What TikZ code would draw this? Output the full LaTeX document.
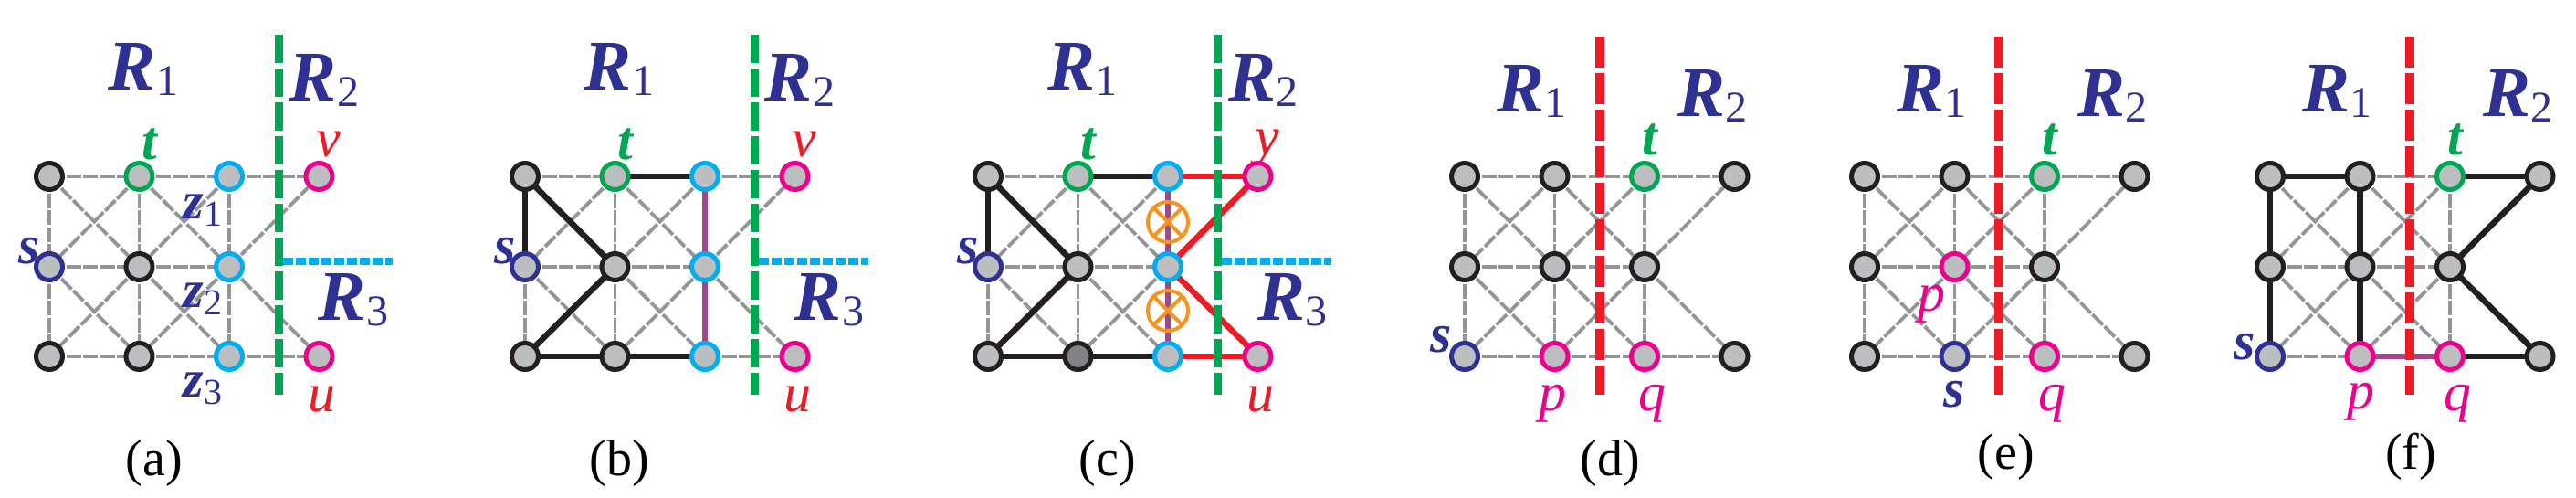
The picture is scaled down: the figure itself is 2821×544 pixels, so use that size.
\documentclass[tikz,border=0pt]{standalone}
\usepackage{fontspec}
\setmainfont{Liberation Serif}
\begin{document}
\definecolor{ngray}{HTML}{BCBEC0}
\definecolor{dgray}{HTML}{808285}
\definecolor{egray}{HTML}{939598}
\definecolor{kblack}{HTML}{231F20}
\definecolor{kgreen}{HTML}{00A651}
\definecolor{kcyan}{HTML}{00AEEF}
\definecolor{kmag}{HTML}{EC008C}
\definecolor{kblue}{HTML}{2E3192}
\definecolor{kred}{HTML}{ED1C24}
\definecolor{kpurp}{HTML}{A0488C}
\definecolor{korange}{HTML}{F7941D}
\begin{tikzpicture}[x=1pt,y=-1pt,
  gedge/.style={egray,line width=3.8pt,dash pattern=on 16pt off 2.5pt},
  bedge/.style={kblack,line width=6.5pt},
  pedge/.style={kpurp,line width=6.5pt},
  redge/.style={kred,line width=6.5pt},
  vtx/.style={circle,draw=#1,fill=ngray,line width=5pt,minimum size=29pt,inner sep=0pt},
  gline/.style={kgreen,line width=9pt,dash pattern=on 31pt off 6pt},
  cline/.style={kcyan,line width=8pt,dash pattern=on 11pt off 3pt},
  rline/.style={kred,line width=10pt,dash pattern=on 34pt off 6pt},
  Rlab/.style={kblue,inner sep=0pt},
  lab/.style={inner sep=0pt,font=\fontsize{60}{60}\selectfont\itshape},
  blab/.style={inner sep=0pt,font=\fontsize{60}{60}\selectfont\bfseries\itshape},
  captxt/.style={inner sep=0pt,font=\fontsize{56}{60}\selectfont}]
\newcommand\Rl[1]{\fontsize{78}{80}\selectfont\textbf{\textit{R}}\fontsize{48}{50}\selectfont\raisebox{-6pt}{#1}}
\newcommand\zl[1]{\fontsize{58}{60}\selectfont\textbf{\textit{z}}\fontsize{40}{40}\selectfont\raisebox{-8pt}{#1}}
\newcommand\mkgrid[2]{\foreach \i in {0,1,2,3}{\foreach \j/\yy in {0/193,1/292,2/390}{\coordinate (#1\i\j) at (#2+98.5*\i,\yy);}}}
\newcommand\grayedges[1]{\foreach \p/\q in {00/10,10/20,20/30,01/11,11/21,02/12,12/22,22/32,00/01,01/02,10/11,11/12,20/21,21/22,00/11,10/01,01/12,11/02,10/21,20/11,11/22,21/12,21/30,21/32}{\draw[gedge] (#1\p) -- (#1\q);}}
\newcommand\verts[2]{\foreach \p/\c in {#2}{\node[vtx=\c] (#1n\p) at (#1\p) {};}}
\useasboundingbox (0,0) rectangle (2821,544);
\mkgrid{a}{54}\mkgrid{b}{575}\mkgrid{c}{1082}\mkgrid{d}{1604}\mkgrid{e}{2042}\mkgrid{f}{2486}
\foreach \P in {a,b,c,d,e,f}{\grayedges{\P}}
\foreach \P in {b,c}{
  \foreach \p/\q in {00/01,00/11,11/02,02/12,12/22,10/20}{\draw[bedge] (\P\p) -- (\P\q);}
  \draw[pedge] (\P20) -- (\P21) -- (\P22);}
\foreach \p/\q in {20/30,21/30,21/32,22/32}{\draw[redge] (c\p) -- (c\q);}
\foreach \p/\q in {00/10,00/01,01/02,10/11,11/12,20/30,30/21,21/32,32/22}{\draw[bedge] (f\p) -- (f\q);}
\draw[pedge] (f12) -- (f22);
\foreach \yy/\n in {243/1,340/2}{
  \node[circle,draw=korange,line width=4pt,minimum size=44pt,inner sep=0pt] (ox\n) at (1082+197,\yy) {};
  \draw[korange,line width=4pt] (ox\n.north east) -- (ox\n.south west) (ox\n.north west) -- (ox\n.south east);}
\foreach \P/\X in {a/54,b/575,c/1082}{
  \coordinate (\P gt) at (\X+251,38); \coordinate (\P gb) at (\X+251,432);
  \coordinate (\P cl) at (\X+256,286); \coordinate (\P cr) at (\X+376,286);
  \draw[gline] (\P gt) -- (\P gb);
  \draw[cline] (\P cl) -- (\P cr);
  \node[Rlab] (\P R1) at (\X+103,76) {\Rl{1}};
  \node[Rlab] (\P R2) at (\X+301,88) {\Rl{2}};
  \node[Rlab] (\P R3) at (\X+333,328) {\Rl{3}};
  \node[blab,kgreen] (\P t) at (\X+110,158) {t};
  \node[blab,kblue] (\P s) at (\X-22,275) {s};
  \node[lab,kred] (\P u) at (\X+298,437) {u};}
\node[lab,kred] (av) at (54+306,158) {v};
\node[lab,kred] (bv) at (575+306,158) {v};
\node[lab,kred] (cv) at (1082+306,162) {y};
\node[kblue,inner sep=0pt] (z1) at (54+168,230) {\zl{1}};
\node[kblue,inner sep=0pt] (z2) at (54+168,327) {\zl{2}};
\node[kblue,inner sep=0pt] (z3) at (54+168,425) {\zl{3}};
\foreach \P/\X/\d in {d/1604/148,e/2042/147,f/2486/153}{
  \coordinate (\P rt) at (\X+\d,40); \coordinate (\P rb) at (\X+\d,432);
  \draw[rline] (\P rt) -- (\P rb);
  \node[Rlab] (\P R1) at (\X+73,100) {\Rl{1}};
  \node[Rlab] (\P R2) at (\X+271,105) {\Rl{2}};
  \node[blab,kgreen] (\P t) at (\X+203,153) {t};
  \node[lab,kmag] (\P q) at (\X+205,442) {q};}
\node[blab,kblue] (ds) at (1604-26,372) {s};
\node[lab,kmag] (dp) at (1604+96,442) {p};
\node[lab,kmag] (ep) at (2042+73,333) {p};
\node[blab,kblue] (es) at (2042+98,432) {s};
\node[blab,kblue] (fs) at (2486-28,380) {s};
\node[lab,kmag] (fp) at (2486+99,440) {p};
\foreach \P in {a,b}{\verts{\P}{00/kblack,10/kgreen,20/kcyan,01/kblue,11/kblack,21/kcyan,02/kblack,12/kblack,22/kcyan,30/kmag,32/kmag}}
\verts{c}{00/kblack,10/kgreen,20/kcyan,01/kblue,11/kblack,21/kcyan,02/kblack,22/kcyan,30/kmag,32/kmag}
\node[vtx=kblack,fill=dgray] (cn12) at (c12) {};
\foreach \P in {d,f}{\verts{\P}{00/kblack,10/kblack,20/kgreen,30/kblack,01/kblack,11/kblack,21/kblack,02/kblue,12/kmag,22/kmag,32/kblack}}
\verts{e}{00/kblack,10/kblack,20/kgreen,30/kblack,01/kblack,11/kmag,21/kblack,02/kblack,12/kblue,22/kmag,32/kblack}
\node[captxt] (capa) at (169,507) {(a)};
\node[captxt] (capb) at (678,507) {(b)};
\node[captxt] (capc) at (1213,507) {(c)};
\node[captxt] (capd) at (1763,507) {(d)};
\node[captxt] (cape) at (2197,500) {(e)};
\node[captxt] (capf) at (2640,500) {(f)};
\end{tikzpicture}
\end{document}
